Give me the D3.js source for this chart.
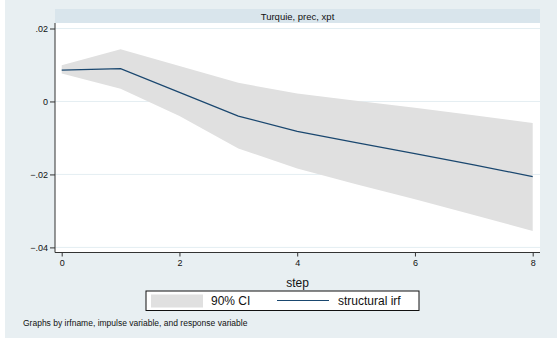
<!DOCTYPE html>
<html>
<head>
<meta charset="utf-8">
<script src="https://cdn.jsdelivr.net/npm/d3@7"></script>
<style>
  html, body { margin: 0; padding: 0; background: #ffffff; }
  svg { display: block; font-family: "Liberation Sans", Arial, sans-serif; }
</style>
</head>
<body>
<svg id="chart" width="558" height="343"></svg>
<script>
// Impulse-response: Turquie, impulse prec, response xpt
const steps = [0, 1, 2, 3, 4, 5, 6, 7, 8];
const irf   = [0.0086, 0.0090, 0.0025, -0.0040, -0.0082, -0.0113, -0.0143, -0.0174, -0.0206];
const ciUpper = [0.0099, 0.0143, 0.0097, 0.0051, 0.0022, 0.0002, -0.0017, -0.0038, -0.0059];
const ciLower = [0.0077, 0.0035, -0.0040, -0.0129, -0.0184, -0.0227, -0.0268, -0.0311, -0.0355];
const yTicks = [-0.04, -0.02, 0, 0.02];
const xTicks = [0, 2, 4, 6, 8];
const panelTitle = "Turquie, prec, xpt";
const xTitle = "step";
const legendLabels = ["90% CI", "structural irf"];
const note = "Graphs by irfname, impulse variable, and response variable";

const svg = d3.select("#chart");

// outer graph region
svg.append("rect").attr("x", 5).attr("y", 0).attr("width", 552).attr("height", 338)
  .attr("fill", "#e8eff2");

const plot = { left: 55, right: 540, top: 23, bottom: 252.5 };

// panel title strip
svg.append("rect").attr("x", plot.left).attr("y", 9).attr("width", plot.right - plot.left).attr("height", 14)
  .attr("fill", "#d9e5ec");
svg.append("text").attr("x", (plot.left + plot.right) / 2).attr("y", 19.5)
  .attr("text-anchor", "middle").attr("font-size", 9.5).attr("fill", "#111")
  .text(panelTitle);

// plot region
svg.append("rect").attr("x", plot.left).attr("y", plot.top)
  .attr("width", plot.right - plot.left).attr("height", plot.bottom - plot.top)
  .attr("fill", "#ffffff");

const x = d3.scaleLinear().domain([0, 8]).range([61.7, 532.7]);
const y = d3.scaleLinear().domain([-0.04, 0.02]).range([247.4, 28.5]);

// gridlines
svg.append("g").selectAll("line").data(yTicks).join("line")
  .attr("x1", plot.left).attr("x2", plot.right)
  .attr("y1", d => y(d)).attr("y2", d => y(d))
  .attr("stroke", "#e4eef2").attr("stroke-width", 1);

// confidence band
const band = steps.map((s, i) => ({ s, lo: ciLower[i], hi: ciUpper[i] }));
svg.append("path").datum(band)
  .attr("fill", "#e0e0e0")
  .attr("d", d3.area().x(d => x(d.s)).y0(d => y(d.lo)).y1(d => y(d.hi)));

// irf line
svg.append("path").datum(steps.map((s, i) => ({ s, v: irf[i] })))
  .attr("fill", "none").attr("stroke", "#1a476f").attr("stroke-width", 1.2)
  .attr("d", d3.line().x(d => x(d.s)).y(d => y(d.v)));

// axes
const fmtY = d => d === 0 ? "0" : d3.format(".2f")(d).replace("0.", ".");
const yAxis = svg.append("g").attr("transform", `translate(${plot.left},0)`)
  .call(d3.axisLeft(y).tickValues(yTicks).tickSize(5).tickPadding(2).tickFormat(fmtY));
yAxis.select(".domain").attr("d", `M0,${plot.top}V${plot.bottom}`).attr("stroke", "#333");
yAxis.selectAll(".tick line").attr("stroke", "#333");
yAxis.selectAll("text").attr("font-size", 9).attr("fill", "#111").attr("font-family", "Liberation Sans, Arial, sans-serif");

const xAxis = svg.append("g").attr("transform", `translate(0,${plot.bottom})`)
  .call(d3.axisBottom(x).tickValues(xTicks).tickSize(4).tickPadding(3).tickFormat(d3.format("d")));
xAxis.select(".domain").attr("d", `M${plot.left},0H${plot.right}`).attr("stroke", "#333");
xAxis.selectAll(".tick line").attr("stroke", "#333");
xAxis.selectAll("text").attr("font-size", 9).attr("fill", "#111").attr("font-family", "Liberation Sans, Arial, sans-serif");

svg.append("text").attr("x", (plot.left + plot.right) / 2).attr("y", 286.5)
  .attr("text-anchor", "middle").attr("font-size", 12).attr("fill", "#111").text(xTitle);

// legend
const lg = svg.append("g");
lg.append("rect").attr("x", 146).attr("y", 291).attr("width", 273).attr("height", 19.5)
  .attr("fill", "#ffffff").attr("stroke", "#111").attr("stroke-width", 1);
lg.append("rect").attr("x", 151).attr("y", 294.5).attr("width", 52).attr("height", 13)
  .attr("fill", "#e0e0e0");
lg.append("text").attr("x", 211).attr("y", 305).attr("font-size", 12).attr("fill", "#111").text(legendLabels[0]);
lg.append("line").attr("x1", 277).attr("x2", 329).attr("y1", 300.5).attr("y2", 300.5)
  .attr("stroke", "#1a476f").attr("stroke-width", 1.2);
lg.append("text").attr("x", 338).attr("y", 305).attr("font-size", 12).attr("fill", "#111").text(legendLabels[1]);

// note
svg.append("text").attr("x", 23).attr("y", 325.5).attr("font-size", 8.5).attr("fill", "#111").text(note);
</script>
</body>
</html>
